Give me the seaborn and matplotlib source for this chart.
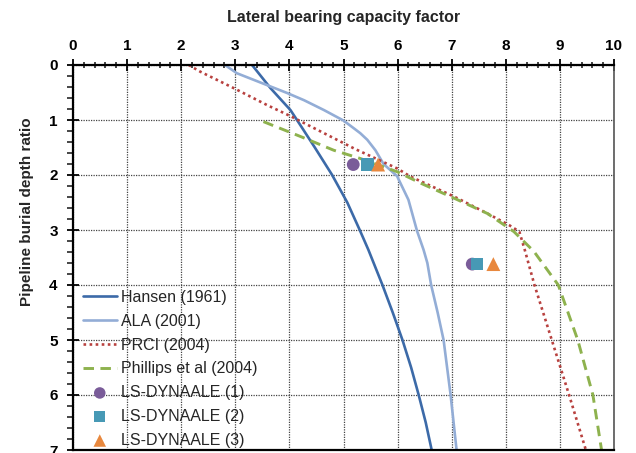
import matplotlib
matplotlib.use("Agg")
import matplotlib.pyplot as plt
import seaborn as sns
from matplotlib.ticker import MultipleLocator

# Lateral bearing capacity factor (N) against burial depth ratio (H/D)
hansen_depth = [0, 0.42, 0.82, 1.12, 1.5, 2.0, 2.5, 3.0, 3.36, 4.0, 4.5, 5.0, 5.5, 6.0, 6.5, 7.0]
hansen_factor = [3.31, 3.65, 4.02, 4.22, 4.47, 4.79, 5.07, 5.30, 5.46, 5.72, 5.91, 6.09, 6.25, 6.39, 6.52, 6.63]

ala_depth = [0, 0.15, 0.27, 0.39, 0.51, 0.64, 0.82, 1.01, 1.15, 1.24, 1.36, 1.55, 1.80, 2.02,
             2.45, 3.02, 3.36, 3.6, 4.0, 4.5, 5.0, 6.0, 7.0]
ala_factor = [2.81, 3.03, 3.34, 3.65, 3.96, 4.27, 4.64, 5.00, 5.19, 5.31, 5.44, 5.59, 5.74, 5.99,
              6.20, 6.36, 6.48, 6.55, 6.62, 6.74, 6.85, 6.98, 7.09]

prci_depth = [0, 0.12, 0.42, 0.73, 0.93, 1.13, 1.33, 1.53, 1.67, 1.88, 2.03, 2.21,
              2.39, 2.70, 2.91, 3.03, 3.36, 4.0, 5.0, 6.0, 7.0]
prci_factor = [2.14, 2.35, 2.97, 3.59, 4.02, 4.42, 4.82, 5.22, 5.53, 5.99, 6.24, 6.64,
               7.04, 7.66, 8.06, 8.25, 8.35, 8.53, 8.85, 9.17, 9.48]

phillips_depth = [1.03, 1.31, 1.55, 1.70, 1.94, 2.15, 2.42, 2.70, 3.03, 3.39, 4.0, 5.0, 6.0, 7.0]
phillips_factor = [3.52, 4.23, 4.82, 5.31, 5.99, 6.43, 7.04, 7.66, 8.15, 8.52, 8.97, 9.33, 9.61, 9.77]

# LS-DYNA ALE results at two burial depths
ale_depth = [1.81, 3.62]
ale1_factor = [5.18, 7.38]
ale2_factor = [5.44, 7.47]
ale3_factor = [5.64, 7.77]

W, H = 636, 453
fig = plt.figure(figsize=(W / 100, H / 100), dpi=100)
sns.set_style("white")
plt.rcParams["font.family"] = ["Liberation Sans", "DejaVu Sans"]

x0, x1, y0, y1 = 73, 614, 65, 450
ax = fig.add_axes([x0 / W, 1 - y1 / H, (x1 - x0) / W, (y1 - y0) / H])

lw = 1.9
sns.lineplot(x=hansen_factor, y=hansen_depth, sort=False, ax=ax, color="#3C6AA8",
             lw=lw, label="Hansen (1961)")
sns.lineplot(x=ala_factor, y=ala_depth, sort=False, ax=ax, color="#93ADD6",
             lw=lw, label="ALA (2001)")
sns.lineplot(x=prci_factor, y=prci_depth, sort=False, ax=ax, color="#B8413F",
             lw=lw, linestyle=(0, (1, 1.3)), label="PRCI (2004)")
sns.lineplot(x=phillips_factor, y=phillips_depth, sort=False, ax=ax, color="#8EB24E",
             lw=lw + 0.2, linestyle=(0, (3.6, 2.2)), label="Phillips et al (2004)")

sns.scatterplot(x=ale1_factor, y=ale_depth, ax=ax, marker="o", s=85, color="#7A5C99",
                edgecolor="none", label="LS-DYNAALE (1)", zorder=5)
sns.scatterplot(x=ale2_factor, y=ale_depth, ax=ax, marker="s", s=80, color="#4799B5",
                edgecolor="none", label="LS-DYNAALE (2)", zorder=6)
sns.scatterplot(x=ale3_factor, y=ale_depth, ax=ax, marker="^", s=100, color="#E8883E",
                edgecolor="none", label="LS-DYNAALE (3)", zorder=7)

ax.set_xlim(0, 10)
ax.set_ylim(7, 0)
ax.xaxis.tick_top()
ax.xaxis.set_label_position("top")
ax.xaxis.set_major_locator(MultipleLocator(1))
ax.xaxis.set_minor_locator(MultipleLocator(0.2))
ax.yaxis.set_major_locator(MultipleLocator(1))
ax.yaxis.set_minor_locator(MultipleLocator(0.2))

ax.tick_params(axis="x", which="major", direction="inout", length=8, width=1.3,
               labelsize=11, pad=5, top=True, bottom=False, colors="black")
ax.tick_params(axis="x", which="minor", direction="inout", length=5, width=1.2,
               top=True, bottom=False)
ax.tick_params(axis="y", which="major", direction="inout", length=8, width=1.3,
               labelsize=11, pad=7, left=True, colors="black")
ax.tick_params(axis="y", which="minor", direction="out", length=4, width=1.2, left=True)
for lab in ax.get_xticklabels() + ax.get_yticklabels():
    lab.set_fontweight("bold")

ax.grid(True, which="major", color="#444444", linestyle=(0, (1, 1)), linewidth=0.9)
ax.set_axisbelow(True)

for side in ("top", "left", "bottom"):
    ax.spines[side].set_linewidth(1.6)
    ax.spines[side].set_color("black")
ax.spines["right"].set_linewidth(1.2)
ax.spines["right"].set_color("#555555")

ax.set_xlabel("Lateral bearing capacity factor", fontsize=11.5, fontweight="bold", labelpad=12)
ax.set_ylabel("Pipeline burial depth ratio", fontsize=11, fontweight="bold")
ax.yaxis.set_label_coords(-39 / (x1 - x0), (y1 - 212) / (y1 - y0))

handles, labels = ax.get_legend_handles_labels()
ax.legend(handles, labels, loc="upper left",
          bbox_to_anchor=((83 - x0) / (x1 - x0), (y1 - 290) / (y1 - y0)),
          frameon=False, fontsize=11.5, handlelength=2.1, handletextpad=0.3,
          labelspacing=0.55, borderpad=0, borderaxespad=0, markerscale=0.9)

fig.savefig("out.png", dpi=100)
